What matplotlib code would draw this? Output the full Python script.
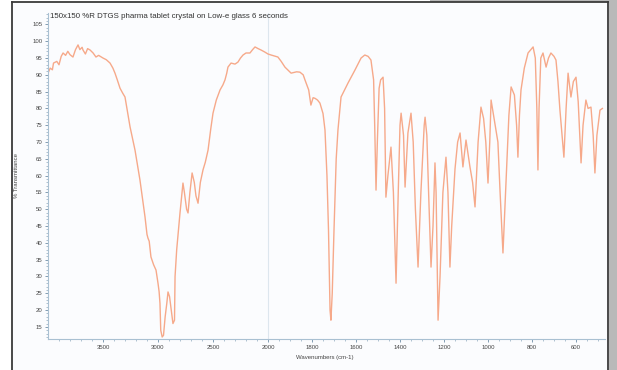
import numpy as np
import matplotlib.pyplot as plt
from matplotlib.patches import Rectangle
from matplotlib.lines import Line2D
from matplotlib.ticker import FixedLocator

plt.rcParams['font.family'] = ['Liberation Sans', 'DejaVu Sans']

# FTIR spectrum: wavenumber (cm-1) and %T
wavenumber = [4000, 3980, 3960, 3950, 3920, 3900, 3880, 3863, 3840, 3820, 3800, 3773, 3750, 3727,
              3710, 3690, 3682, 3660, 3640, 3618, 3590, 3564, 3540, 3500, 3470, 3436, 3410, 3391,
              3370, 3345, 3320, 3300, 3254, 3209, 3164, 3118, 3100, 3091, 3080, 3064, 3040, 3018,
              3000, 2990, 2982, 2975, 2962, 2950, 2935, 2920, 2909, 2895, 2880, 2864, 2850, 2845,
              2830, 2800, 2773, 2760, 2740, 2727, 2710, 2690, 2670, 2655, 2636, 2615, 2591, 2570,
              2545, 2520, 2500, 2470, 2436, 2410, 2391, 2375, 2364, 2336, 2300, 2273, 2250, 2227,
              2200, 2164, 2140, 2118, 2090, 2064, 2030, 2000, 1986, 1955, 1940, 1923, 1895, 1870,
              1855, 1840, 1832, 1815, 1805, 1795, 1786, 1775, 1764, 1750, 1741, 1732, 1725, 1718,
              1714, 1708, 1700, 1690, 1682, 1668, 1636, 1605, 1577, 1560, 1545, 1532, 1520, 1515,
              1509, 1503, 1495, 1488, 1477, 1470, 1464, 1455, 1441, 1430, 1418, 1408, 1400, 1395,
              1384, 1377, 1370, 1364, 1350, 1340, 1330, 1318, 1305, 1290, 1286, 1278, 1270, 1259,
              1250, 1241, 1236, 1227, 1218, 1205, 1191, 1182, 1173, 1165, 1150, 1138, 1127, 1114,
              1100, 1082, 1070, 1059, 1045, 1032, 1020, 1010, 1000, 992, 986, 975, 964, 955, 945,
              932, 920, 905, 895, 880, 870, 864, 857, 850, 835, 818, 795, 785, 778, 773, 768, 760,
              750, 736, 725, 714, 700, 691, 682, 673, 655, 645, 636, 623, 612, 600, 590, 577, 568,
              555, 545, 532, 522, 514, 505, 491, 480]
transmittance = [90.5, 92.0, 91.5, 93.5, 94.0, 93.0, 95.5, 96.5, 95.8, 97.0, 96.0, 95.3, 97.5, 98.9,
                 97.5, 98.2, 97.4, 96.2, 97.8, 97.4, 96.5, 95.3, 95.8, 95.0, 94.5, 93.5, 92.0, 90.5,
                 88.5, 86.0, 84.5, 83.4, 74.5, 67.6, 58.7, 47.7, 42.5, 41.4, 40.5, 35.8, 33.5, 31.9,
                 28.0, 25.5, 22.0, 14.0, 12.0, 12.5, 18.0, 22.0, 25.4, 24.0, 20.0, 16.0, 17.0, 30.0,
                 38.0, 48.9, 57.8, 55.0, 50.0, 48.9, 55.0, 60.8, 58.0, 54.0, 51.8, 58.0, 61.7, 64.0,
                 67.6, 74.0, 78.6, 82.5, 85.5, 87.0, 88.5, 90.5, 92.3, 93.5, 93.2, 93.8, 95.0, 95.9,
                 96.5, 96.5, 97.5, 98.3, 97.8, 97.4, 96.8, 96.2, 95.9, 95.3, 94.0, 92.3, 90.5, 90.9,
                 90.8, 90.0, 88.5, 85.5, 81.0, 83.2, 83.0, 82.5, 81.6, 78.5, 73.6, 60.0, 43.8, 20.0,
                 17.0, 25.0, 43.8, 65.0, 73.6, 83.4, 87.6, 91.4, 95.0, 95.9, 95.5, 94.4, 88.5, 75.0,
                 55.7, 70.0, 86.0, 88.5, 89.3, 80.0, 53.6, 60.0, 68.5, 55.0, 28.0, 55.0, 75.0, 78.6,
                 72.0, 56.6, 65.0, 72.7, 78.6, 70.0, 50.0, 32.8, 55.0, 75.0, 77.4, 72.0, 55.0, 32.8,
                 45.0, 63.8, 55.0, 17.0, 30.0, 55.0, 65.5, 55.0, 32.8, 45.0, 62.0, 70.0, 72.7, 62.6,
                 70.6, 62.6, 58.0, 50.7, 70.0, 80.4, 77.0, 70.0, 57.8, 70.0, 82.5, 78.0, 73.6, 70.0, 55.0,
                 37.0, 55.0, 78.0, 86.4, 84.0, 75.0, 65.5, 78.0, 85.5, 92.0, 96.5, 98.3, 95.0, 80.0, 61.7, 80.0, 95.0,
                 96.5, 92.3, 95.0, 96.5, 95.5, 94.4, 88.0, 79.5, 65.5, 80.0, 90.5, 83.4, 88.0, 89.3, 82.0, 63.8, 75.0,
                 82.5, 80.0, 80.4, 72.0, 60.8, 72.0, 79.5, 80.0]

x_major = [3500, 3000, 2500, 2000, 1800, 1600, 1400, 1200, 1000, 800, 600]
y_major = list(range(15, 110, 5))


# OMNIC style axis: above 2000 cm-1 is drawn at half scale
def fwd(x):
    x = np.asarray(x, dtype=float)
    return np.where(x > 2000, 2000 + (x - 2000) / 2, x)


def inv(v):
    v = np.asarray(v, dtype=float)
    return np.where(v > 2000, 2000 + (v - 2000) * 2, v)


W, H = 617, 370
fig = plt.figure(figsize=(W / 100, H / 100), dpi=100)
fig.patch.set_facecolor('white')

# page frame around the plot
fig.patches.append(Rectangle((609 / W, 0), 8 / W, 1, transform=fig.transFigure,
                             facecolor='#b9b9b9', edgecolor='none', zorder=-2))
fig.patches.append(Rectangle((430 / W, 1 - 2 / H), 187 / W, 2 / H, transform=fig.transFigure,
                             facecolor='#b9b9b9', edgecolor='none', zorder=-2))
fig.patches.append(Rectangle((12 / W, 0), 596 / W, 1 - 3 / H, transform=fig.transFigure,
                             facecolor='#fbfcfe', edgecolor='none', zorder=-2))
for xs, ys in [([12, 12], [0, 368]), ([12, 608], [368, 368]), ([608, 608], [0, 368])]:
    fig.lines.append(Line2D([x / W for x in xs], [y / H for y in ys], transform=fig.transFigure,
                            color='#3a3a3a', linewidth=1.3, zorder=-1))

ax = fig.add_axes([48 / W, 1 - 339 / H, (604.6 - 48) / W, (339 - 13) / H])
ax.set_facecolor('none')
ax.set_zorder(3)
ax.set_xscale('function', functions=(fwd, inv))
ax.set_xlim(4000, 470)
ax.set_ylim(11.4, 108.4)

ax.axvline(2000, color='#dde6ee', linewidth=0.8, zorder=1)
ax.plot(wavenumber, transmittance, color='#f6a98a', linewidth=1.0, zorder=2)

for s in ['top', 'right']:
    ax.spines[s].set_visible(False)
for s in ['left', 'bottom']:
    ax.spines[s].set_color('#a9c0d2')
    ax.spines[s].set_linewidth(0.8)

minor_x = list(range(500, 2000, 50)) + list(range(2100, 4000, 100))
ax.xaxis.set_major_locator(FixedLocator(x_major))
ax.xaxis.set_minor_locator(FixedLocator(minor_x))
ax.set_xticklabels([str(v) for v in x_major])
ax.yaxis.set_major_locator(FixedLocator(y_major))
ax.yaxis.set_minor_locator(FixedLocator(list(range(12, 109))))
ax.set_yticklabels([str(v) for v in y_major])

ax.tick_params(which='major', length=2.5, width=0.6, color='#6f8ea6',
               labelsize=4.3, labelcolor='#444444', pad=1.5)
ax.tick_params(which='minor', length=1.2, width=0.5, color='#8fa9bd')

fig.text(50 / W, 1 - 16 / H, '150x150 %R DTGS pharma tablet crystal on Low-e glass 6 seconds',
         fontsize=5.7, color='#333333', ha='left', va='center')
fig.text(17 / W, 1 - 175 / H, '% Transmittance', rotation=90, fontsize=4.3,
         color='#444444', ha='center', va='center')
fig.text(325 / W, 1 - 357 / H, 'Wavenumbers (cm-1)', fontsize=4.3,
         color='#444444', ha='center', va='center')

fig.savefig('out.png', dpi=100)
